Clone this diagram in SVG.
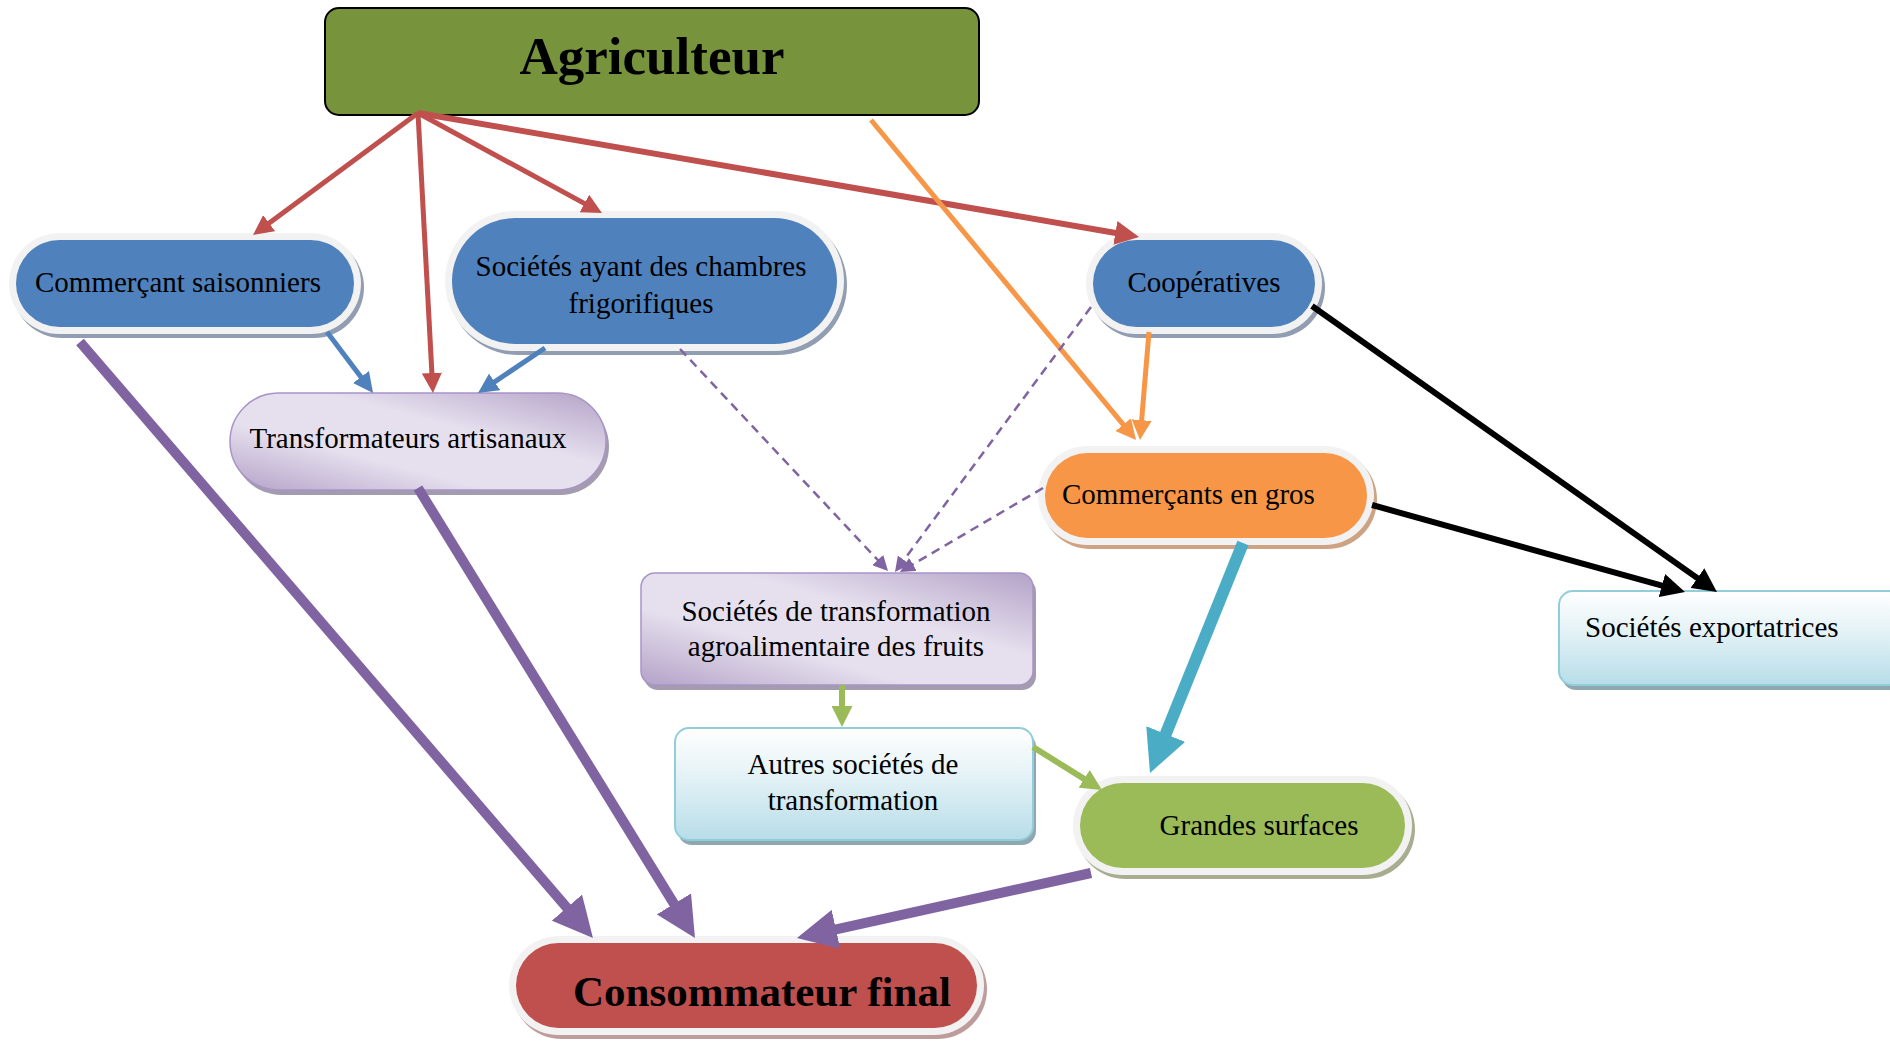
<svg xmlns="http://www.w3.org/2000/svg" width="1890" height="1041" viewBox="0 0 1890 1041">
<style>
.t{font-family:"Liberation Serif","Times New Roman",serif;font-size:29px;fill:#000}
.tc{text-anchor:middle}
.b{font-weight:bold}
.halo{fill:#f2f2f2}
.blue{fill:#4f81bd}
.shb{fill:#919db2}
.pur{fill:url(#gPur);stroke:#a994c8;stroke-width:1.5}
.shp{fill:#a39bae}
.lb{fill:url(#gBlue);stroke:#92cddc;stroke-width:2}
.shl{fill:#8fa8b0}
.ln{fill:none;stroke-linecap:butt}
</style>
<defs>
<linearGradient id="gPur" x1="0" y1="1" x2="1" y2="0">
<stop offset="0" stop-color="#b3a2c7"/>
<stop offset="0.35" stop-color="#e6e0ee"/>
<stop offset="0.62" stop-color="#e6e0ee"/>
<stop offset="1" stop-color="#b3a2c7"/>
</linearGradient>
<linearGradient id="gBlue" x1="0" y1="0" x2="0" y2="1">
<stop offset="0" stop-color="#ffffff"/>
<stop offset="0.4" stop-color="#e6f3f7"/>
<stop offset="1" stop-color="#b7dde8"/>
</linearGradient>
<marker id="aRed" viewBox="0 0 10 10" refX="2" refY="5" markerWidth="4" markerHeight="4" markerUnits="strokeWidth" orient="auto"><path d="M0,0L10,5L0,10z" fill="#c0504d"/></marker>
<marker id="aBlue" viewBox="0 0 10 10" refX="2" refY="5" markerWidth="4" markerHeight="4" markerUnits="strokeWidth" orient="auto"><path d="M0,0L10,5L0,10z" fill="#4f81bd"/></marker>
<marker id="aOr" viewBox="0 0 10 10" refX="2" refY="5" markerWidth="4" markerHeight="4" markerUnits="strokeWidth" orient="auto"><path d="M0,0L10,5L0,10z" fill="#f79646"/></marker>
<marker id="aPur" viewBox="0 0 10 10" refX="2" refY="5" markerWidth="4" markerHeight="4" markerUnits="strokeWidth" orient="auto"><path d="M0,0L10,5L0,10z" fill="#8064a2"/></marker>
<marker id="aDash" viewBox="0 0 10 10" refX="2" refY="5" markerWidth="6" markerHeight="6" markerUnits="strokeWidth" orient="auto"><path d="M0,0L10,5L0,10z" fill="#8064a2"/></marker>
<marker id="aGr" viewBox="0 0 10 10" refX="2" refY="5" markerWidth="3.5" markerHeight="3.5" markerUnits="strokeWidth" orient="auto"><path d="M0,0L10,5L0,10z" fill="#9bbb59"/></marker>
<marker id="aCy" viewBox="0 0 10 10" refX="2" refY="5" markerWidth="3.5" markerHeight="3.5" markerUnits="strokeWidth" orient="auto"><path d="M0,0L10,5L0,10z" fill="#4bacc6"/></marker>
<marker id="aBk" viewBox="0 0 10 10" refX="2" refY="5" markerWidth="4" markerHeight="4" markerUnits="strokeWidth" orient="auto"><path d="M0,0L10,5L0,10z" fill="#000"/></marker>
</defs>
<rect width="1890" height="1041" fill="#fff"/>

<g id="n-agriculteur">
<rect x="325" y="8" width="654" height="107" rx="14" fill="#77933c" stroke="#000" stroke-width="2"/>
<text class="t tc b" x="652" y="74" style="font-size:53px">Agriculteur</text>
</g>

<g id="n-saisonniers">
<rect class="shb" x="12" y="237" width="352" height="101" rx="50.5"/>
<rect class="halo" x="9" y="233" width="352" height="101" rx="50.5"/>
<rect class="blue" x="16" y="240" width="338" height="87" rx="43.5"/>
<text class="t tc" x="178" y="292">Commerçant saisonniers</text>
</g>

<g id="n-chambres">
<rect class="shb" x="448" y="215" width="399" height="140" rx="70"/>
<rect class="halo" x="445" y="211" width="399" height="140" rx="70"/>
<rect class="blue" x="452" y="218" width="385" height="126" rx="63"/>
<text class="t tc" x="641" y="276">Sociétés ayant des chambres</text>
<text class="t tc" x="641" y="313">frigorifiques</text>
</g>

<g id="n-cooperatives">
<rect class="shb" x="1089" y="237" width="236" height="101" rx="50.5"/>
<rect class="halo" x="1086" y="233" width="236" height="101" rx="50.5"/>
<rect class="blue" x="1093" y="240" width="222" height="87" rx="43.5"/>
<text class="t tc" x="1204" y="292">Coopératives</text>
</g>

<g id="n-artisanaux">
<rect class="shp" x="233" y="398" width="376" height="97" rx="48.5"/>
<rect class="pur" x="230" y="393" width="376" height="97" rx="48.5"/>
<text class="t tc" x="408" y="448">Transformateurs artisanaux</text>
</g>

<g id="n-gros">
<rect fill="#cda383" x="1041" y="450" width="336" height="99" rx="49.5"/>
<rect class="halo" x="1038" y="446" width="336" height="99" rx="49.5"/>
<rect fill="#f79646" x="1045" y="453" width="322" height="85" rx="42.5"/>
<text class="t" x="1062" y="504">Commerçants en gros</text>
</g>

<g id="n-agro">
<rect class="shp" x="644" y="578" width="392" height="112" rx="14"/>
<rect class="pur" x="641" y="573" width="392" height="112" rx="14"/>
<text class="t tc" x="836" y="621">Sociétés de transformation</text>
<text class="t tc" x="836" y="656">agroalimentaire des fruits</text>
</g>

<g id="n-autres">
<rect class="shl" x="678" y="733" width="358" height="112" rx="14"/>
<rect class="lb" x="675" y="728" width="358" height="112" rx="14"/>
<text class="t tc" x="853" y="774">Autres sociétés de</text>
<text class="t tc" x="853" y="810">transformation</text>
</g>

<g id="n-export">
<rect class="shl" x="1562" y="596" width="350" height="94" rx="14"/>
<rect class="lb" x="1559" y="591" width="350" height="94" rx="14"/>
<text class="t" x="1585" y="637">Sociétés exportatrices</text>
</g>

<g id="n-grandes">
<rect fill="#a9ad90" x="1076" y="780" width="339" height="99" rx="49.5"/>
<rect class="halo" x="1073" y="776" width="339" height="99" rx="49.5"/>
<rect fill="#9bbb59" x="1080" y="783" width="325" height="85" rx="42.5"/>
<text class="t tc" x="1259" y="835">Grandes surfaces</text>
</g>

<g id="n-consommateur">
<rect fill="#bf9c9c" x="512" y="940" width="475" height="99" rx="49.5"/>
<rect class="halo" x="509" y="936" width="475" height="99" rx="49.5"/>
<rect fill="#c0504d" x="516" y="943" width="461" height="85" rx="42.5"/>
<text class="t tc b" x="762" y="1006" style="font-size:43px">Consommateur final</text>
</g>

<g id="connectors" class="ln">
<line x1="418" y1="113" x2="265.9" y2="225.5" stroke="#c0504d" stroke-width="5" marker-end="url(#aRed)"/>
<line x1="418" y1="113" x2="432.1" y2="377" stroke="#c0504d" stroke-width="5" marker-end="url(#aRed)"/>
<line x1="418" y1="113" x2="587.9" y2="205.4" stroke="#c0504d" stroke-width="5" marker-end="url(#aRed)"/>
<line x1="418" y1="113" x2="1120.1" y2="233.7" stroke="#c0504d" stroke-width="6" marker-end="url(#aRed)"/>
<line x1="327" y1="332" x2="363.4" y2="380.2" stroke="#4f81bd" stroke-width="5" marker-end="url(#aBlue)"/>
<line x1="545" y1="348" x2="491.3" y2="384.1" stroke="#4f81bd" stroke-width="5" marker-end="url(#aBlue)"/>
<line x1="871" y1="120" x2="1125.8" y2="427.7" stroke="#f79646" stroke-width="5" marker-end="url(#aOr)"/>
<line x1="1149" y1="332" x2="1141.3" y2="424.1" stroke="#f79646" stroke-width="5" marker-end="url(#aOr)"/>
<line x1="80" y1="342" x2="572.1" y2="913.7" stroke="#8064a2" stroke-width="10" marker-end="url(#aPur)"/>
<line x1="418" y1="488" x2="678.2" y2="910.7" stroke="#8064a2" stroke-width="10" marker-end="url(#aPur)"/>
<line x1="1091" y1="873" x2="828.2" y2="931.1" stroke="#8064a2" stroke-width="10" marker-end="url(#aPur)"/>
<line x1="680" y1="349" x2="879.8" y2="562.2" stroke="#8064a2" stroke-width="2.5" stroke-dasharray="9,6" marker-end="url(#aDash)"/>
<line x1="1091" y1="307" x2="902.1" y2="562.4" stroke="#8064a2" stroke-width="2.5" stroke-dasharray="9,6" marker-end="url(#aDash)"/>
<line x1="1043" y1="488" x2="910.3" y2="565.9" stroke="#8064a2" stroke-width="2.5" stroke-dasharray="9,6" marker-end="url(#aDash)"/>
<line x1="842" y1="685" x2="842" y2="710.2" stroke="#9bbb59" stroke-width="6" marker-end="url(#aGr)"/>
<line x1="1033" y1="747" x2="1087.7" y2="781.1" stroke="#9bbb59" stroke-width="6" marker-end="url(#aGr)"/>
<line x1="1243" y1="543" x2="1162.6" y2="741.8" stroke="#4bacc6" stroke-width="12" marker-end="url(#aCy)"/>
<line x1="1312" y1="306" x2="1701.3" y2="580.9" stroke="#000" stroke-width="6" marker-end="url(#aBk)"/>
<line x1="1372" y1="505" x2="1666.5" y2="586.9" stroke="#000" stroke-width="6" marker-end="url(#aBk)"/>
</g>
</svg>
